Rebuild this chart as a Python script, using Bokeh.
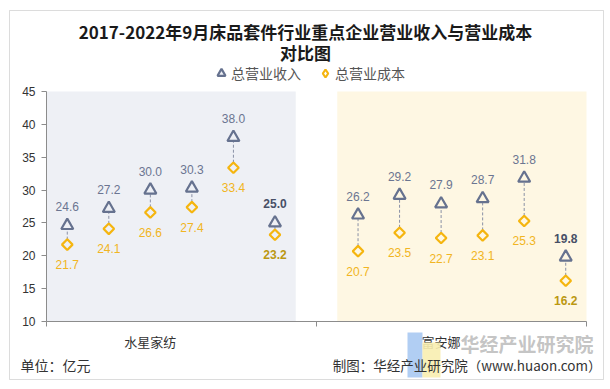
from bokeh.plotting import figure
from bokeh.models import (ColumnDataSource, LabelSet, Label, Legend, LegendItem,
                          FixedTicker, BoxAnnotation)
from bokeh.core.properties import value
from bokeh.embed import file_html
from bokeh.resources import INLINE

# ---------------- data ----------------
companies = ["水星家纺", "富安娜"]
periods = ["2017", "2018", "2019", "2020", "2021", "2022年1-9月"]
revenue = {
    "水星家纺": [24.6, 27.2, 30.0, 30.3, 38.0, 25.0],
    "富安娜": [26.2, 29.2, 27.9, 28.7, 31.8, 19.8],
}
cost = {
    "水星家纺": [21.7, 24.1, 26.6, 27.4, 33.4, 23.2],
    "富安娜": [20.7, 23.5, 22.7, 23.1, 25.3, 16.2],
}
y_ticks = [10, 15, 20, 25, 30, 35, 40, 45]

# ---------------- styles ----------------
REV_COLOR = "#66728f"
COST_COLOR = "#f5b50f"
BAND_COLORS = ["#eef0f5", "#fef7e3"]
REV_LABEL = ["#6b7591", "#474f66"]
COST_LABEL = ["#f1b522", "#bb9812"]
SANS = "Liberation Sans"
CJK = "Noto Sans CJK SC"

W, H = 610, 389
FL, FR, FT, FB = 46, 586, 91, 321   # plot-area edges in canvas pixels
GAP = len(periods) + 1

x_lo = -0.5
x_hi = (len(companies) - 1) * GAP + len(periods) - 0.5
y_lo, y_hi = y_ticks[0], y_ticks[-1]
kx = (FR - FL) / (x_hi - x_lo)
ky = (FB - FT) / (y_hi - y_lo)
X0, X1 = x_lo - FL / kx, x_hi + (W - FR) / kx
Y0, Y1 = y_lo - (H - FB) / ky, y_hi + FT / ky


def sx(cx):  # canvas px -> screen units (frame == canvas)
    return cx


def sy(cy):
    return H - cy


xs, rev, cst, fills, rcol, ccol, style, rtxt, ctxt = [], [], [], [], [], [], [], [], []
for g, c in enumerate(companies):
    n = len(periods)
    for i in range(n):
        last = i == n - 1
        xs.append(g * GAP + i)
        rev.append(revenue[c][i])
        cst.append(cost[c][i])
        fills.append(BAND_COLORS[g])
        rcol.append(REV_LABEL[1] if last else REV_LABEL[0])
        ccol.append(COST_LABEL[1] if last else COST_LABEL[0])
        style.append("bold" if last else "normal")
        rtxt.append(f"{revenue[c][i]:.1f}")
        ctxt.append(f"{cost[c][i]:.1f}")

src = ColumnDataSource(dict(x=xs, rev=rev, cst=cst, fill=fills, rcol=rcol,
                            ccol=ccol, style=style, rtxt=rtxt, ctxt=ctxt))

p = figure(width=W, height=H, output_backend="svg", toolbar_location=None,
           x_range=(X0, X1), y_range=(Y0, Y1), min_border=0)
p.outline_line_color = None
p.background_fill_color = "white"
p.border_fill_color = "white"
p.xgrid.visible = False
p.ygrid.visible = False

# bands
band_src = ColumnDataSource(dict(
    left=[g * GAP - 0.5 for g in range(len(companies))],
    right=[g * GAP + len(periods) - 0.5 for g in range(len(companies))],
    bottom=[y_lo] * len(companies),
    top=[y_hi] * len(companies),
    color=BAND_COLORS[:len(companies)],
))
p.quad(left="left", right="right", bottom="bottom", top="top", color="color",
       source=band_src, line_color=None)

# connectors
p.segment(x0="x", y0="cst", x1="x", y1="rev", source=src,
          line_color="#8a91a6", line_width=1, line_dash="3 2")

r_rev = p.scatter(x="x", y="rev", source=src, marker="triangle", size=12,
                  line_color=REV_COLOR, line_width=2.2, fill_color="fill")
r_cst = p.scatter(x="x", y="cst", source=src, marker="square", angle=0.785398,
                  size=7.5, line_color=COST_COLOR, line_width=2.2, fill_color="fill")
# legend swatch for the cost series (diamond shape, nothing drawn in the plot)
r_cst_key = p.scatter(x=[float("nan")], y=[float("nan")], marker="diamond", size=10,
                      line_color=COST_COLOR, line_width=2.2, fill_color="white")

p.add_layout(LabelSet(x="x", y="rev", text="rtxt", source=src, y_offset=19,
                      text_align="center", text_baseline="middle",
                      text_font=value(SANS), text_font_size=value("12px"),
                      text_color="rcol", text_font_style="style"))
p.add_layout(LabelSet(x="x", y="cst", text="ctxt", source=src, y_offset=-20,
                      text_align="center", text_baseline="middle",
                      text_font=value(SANS), text_font_size=value("12px"),
                      text_color="ccol", text_font_style="style"))

# axes (placed inside the canvas-wide frame)
p.yaxis.fixed_location = x_lo
p.yaxis.bounds = (y_lo, y_hi)
p.yaxis.ticker = FixedTicker(ticks=y_ticks)
p.yaxis.axis_line_color = "#8c8c8c"
p.yaxis.major_tick_line_color = "#8c8c8c"
p.yaxis.major_tick_out = 5
p.yaxis.major_tick_in = 0
p.yaxis.minor_tick_line_color = None
p.yaxis.major_label_text_font = SANS
p.yaxis.major_label_text_font_size = "12px"
p.yaxis.major_label_text_color = "#333333"
p.yaxis.major_label_standoff = 6

centers = [g * GAP + 2 for g in range(len(companies))]
dividers = [x_lo] + [g * GAP - 1 for g in range(1, len(companies))] + [x_hi]
p.xaxis.fixed_location = y_lo
p.xaxis.bounds = (x_lo, x_hi)
p.xaxis.ticker = FixedTicker(ticks=centers, minor_ticks=dividers)
p.xaxis.major_label_overrides = {c: n for c, n in zip(centers, companies)}
p.xaxis.axis_line_color = "#8c8c8c"
p.xaxis.major_tick_line_color = None
p.xaxis.major_tick_out = 0
p.xaxis.major_tick_in = 0
p.xaxis.minor_tick_line_color = "#8c8c8c"
p.xaxis.minor_tick_out = 5
p.xaxis.minor_tick_in = 0
p.xaxis.major_label_text_font = CJK
p.xaxis.major_label_text_font_size = "13px"
p.xaxis.major_label_text_color = "#333333"
p.xaxis.major_label_standoff = 5

# legend (location = bottom-left corner in screen units)
legend = Legend(items=[LegendItem(label="总营业收入", renderers=[r_rev]),
                       LegendItem(label="总营业成本", renderers=[r_cst_key])],
                location=(sx(211), sy(83)), orientation="horizontal",
                border_line_color=None, background_fill_alpha=0,
                padding=0, margin=0, spacing=14, label_standoff=0,
                glyph_width=20, glyph_height=20, label_height=20,
                label_text_font=CJK, label_text_font_size="14px",
                label_text_color="#555555")
p.add_layout(legend, "center")


def screen_box(left, right, top, bottom, **kw):
    return BoxAnnotation(left=sx(left), right=sx(right), top=sy(top), bottom=sy(bottom),
                         left_units="screen", right_units="screen",
                         top_units="screen", bottom_units="screen", **kw)


# outer border
p.add_layout(screen_box(9, 603, 10, 379, fill_color=None,
                        line_color="#8a8a8a", line_width=1))

# titles
for txt, cy in [("2017-2022年9月床品套件行业重点企业营业收入与营业成本", 31), ("对比图", 52)]:
    p.add_layout(Label(x=sx(305), y=sy(cy), x_units="screen", y_units="screen",
                       text=txt, text_align="center", text_baseline="middle",
                       text_font=CJK, text_font_style="bold", text_font_size="17px",
                       text_color="#1a1a1a"))

# logo / watermark
p.add_layout(screen_box(407, 422, 332, 377, fill_color="#a9c9f2", fill_alpha=0.9,
                        line_color=None))
p.add_layout(screen_box(422, 440, 342, 377, fill_color="#f8eeb0", fill_alpha=0.9,
                        line_color=None))
p.add_layout(Label(x=sx(460), y=sy(343), x_units="screen", y_units="screen",
                   text="华经产业研究院", text_align="left", text_baseline="middle",
                   text_font=CJK, text_font_style="bold", text_font_size="19px",
                   text_color="#bdbdbd", text_alpha=0.9))

# footer
p.add_layout(Label(x=sx(20), y=sy(364), x_units="screen", y_units="screen",
                   text="单位：亿元", text_align="left", text_baseline="middle",
                   text_font=CJK, text_font_size="14px", text_color="#333333"))
p.add_layout(Label(x=sx(601), y=sy(364), x_units="screen", y_units="screen",
                   text="制图：华经产业研究院（www.huaon.com）", text_align="right",
                   text_baseline="middle", text_font=CJK, text_font_size="13.5px",
                   text_color="#333333"))

open("out.html", "w").write(file_html(p, INLINE))
